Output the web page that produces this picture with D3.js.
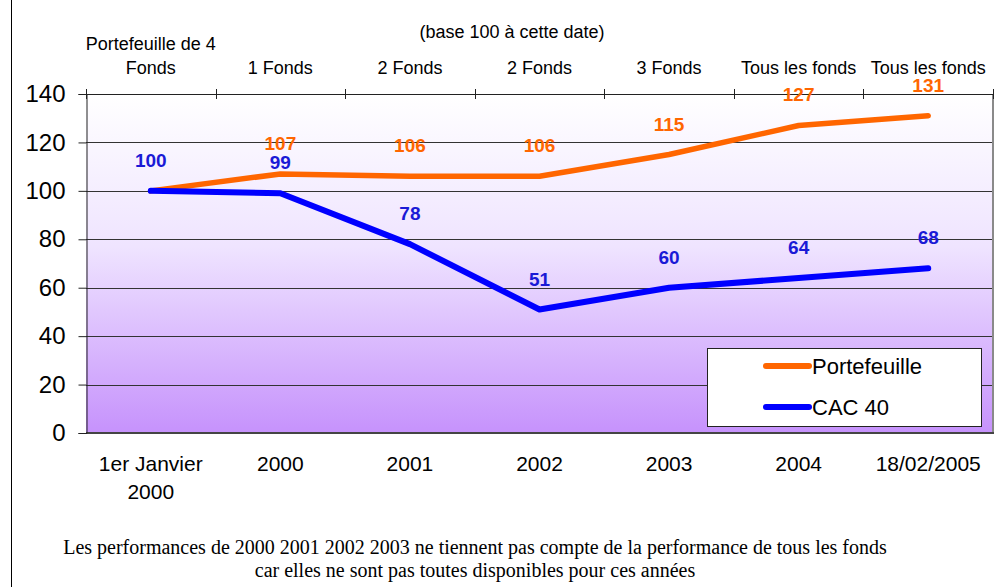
<!DOCTYPE html>
<html>
<head>
<meta charset="utf-8">
<script src="https://cdn.jsdelivr.net/npm/d3@7.9.0/dist/d3.min.js"></script>
<style>
  body { margin: 0; background: #fff; }
  svg { display: block; font-family: Arial, "Liberation Sans", sans-serif; }
</style>
</head>
<body>
<svg id="chart" width="999" height="587"></svg>
<script>
// categories (bottom) and fund counts (top)
const dates = [["1er Janvier", "2000"], ["2000"], ["2001"], ["2002"], ["2003"], ["2004"], ["18/02/2005"]];
const fundCounts = [["Portefeuille de 4", "Fonds"], ["1 Fonds"], ["2 Fonds"], ["2 Fonds"], ["3 Fonds"], ["Tous les fonds"], ["Tous les fonds"]];
const portefeuille = [100, 107, 106, 106, 115, 127, 131];
const cac40 = [100, 99, 78, 51, 60, 64, 68];
const yTicks = [0, 20, 40, 60, 80, 100, 120, 140];
const footnote = [
  "Les performances de 2000 2001 2002 2003 ne tiennent pas compte de la performance de tous les fonds",
  "car elles ne sont pas toutes disponibles pour ces années"
];

const svg = d3.select("#chart");
const pLeft = 86, pRight = 993, pTop = 94, pBottom = 433;

const x = d3.scaleBand().domain(d3.range(dates.length)).range([pLeft, pRight]);
const y = d3.scaleLinear().domain([0, 140]).range([pBottom, pTop]);
const cx = i => x(i) + x.bandwidth() / 2;

// page border on the left
svg.append("line").attr("x1", 11.5).attr("x2", 11.5).attr("y1", 0).attr("y2", 587)
  .attr("stroke", "#000").attr("stroke-width", 1);

// plot background gradient
const grad = svg.append("defs").append("linearGradient")
  .attr("id", "bg").attr("x1", 0).attr("x2", 0).attr("y1", 0).attr("y2", 1);
grad.append("stop").attr("offset", "0%").attr("stop-color", "#ffffff");
grad.append("stop").attr("offset", "45%").attr("stop-color", "#efe4ff");
grad.append("stop").attr("offset", "100%").attr("stop-color", "#c692fc");

svg.append("rect").attr("x", pLeft).attr("y", pTop)
  .attr("width", pRight - pLeft).attr("height", pBottom - pTop)
  .attr("fill", "url(#bg)");

// gridlines
svg.append("g").selectAll("line").data(yTicks.filter(d => d > 0 && d < 140)).join("line")
  .attr("x1", pLeft).attr("x2", pRight)
  .attr("y1", d => Math.round(y(d)) + 0.5).attr("y2", d => Math.round(y(d)) + 0.5)
  .attr("stroke", "#333").attr("stroke-width", 1);

// right + bottom borders (grey)
svg.append("line").attr("x1", pRight).attr("x2", pRight).attr("y1", pTop).attr("y2", pBottom + 1)
  .attr("stroke", "#8a8a8a").attr("stroke-width", 2);
svg.append("line").attr("x1", pLeft).attr("x2", pRight + 1).attr("y1", pBottom).attr("y2", pBottom)
  .attr("stroke", "#444").attr("stroke-width", 2);

// y axis
const yAxis = svg.append("g").attr("transform", `translate(${pLeft + 0.5},0)`)
  .call(d3.axisLeft(y).tickValues(yTicks).tickSize(8).tickPadding(13).tickFormat(d3.format("d")));
yAxis.select(".domain").attr("stroke", "#222");
yAxis.selectAll(".tick line").attr("stroke", "#222");
yAxis.selectAll("text").attr("font-size", 24).attr("fill", "#000")
  .attr("font-family", "Arial, 'Liberation Sans', sans-serif");

// top axis with ticks crossing
const topG = svg.append("g");
topG.append("line").attr("x1", pLeft).attr("x2", pRight).attr("y1", pTop + 0.5).attr("y2", pTop + 0.5)
  .attr("stroke", "#222");
topG.selectAll("line.tk").data(d3.range(dates.length + 1)).join("line").attr("class", "tk")
  .attr("x1", i => Math.round(pLeft + i * x.step()) + 0.5).attr("x2", i => Math.round(pLeft + i * x.step()) + 0.5)
  .attr("y1", pTop - 5).attr("y2", pTop + 5).attr("stroke", "#222");

// top labels
topG.selectAll("text.fc").data(fundCounts).join("text").attr("class", "fc")
  .attr("text-anchor", "middle").attr("font-size", 18).attr("fill", "#000")
  .each(function(d, i) {
    const t = d3.select(this);
    d.forEach((s, k) => {
      t.append("tspan").attr("x", cx(i)).attr("y", 74 - (d.length - 1 - k) * 24).text(s);
    });
  });

svg.append("text").attr("x", 512).attr("y", 38).attr("text-anchor", "middle")
  .attr("font-size", 18).text("(base 100 à cette date)");

// bottom labels
svg.append("g").selectAll("text").data(dates).join("text")
  .attr("text-anchor", "middle").attr("font-size", 21).attr("fill", "#000")
  .each(function(d, i) {
    const t = d3.select(this);
    d.forEach((s, k) => t.append("tspan").attr("x", cx(i)).attr("y", 471 + k * 28).text(s));
  });

// lines
const line = d3.line().x((d, i) => cx(i)).y(d => y(d));
svg.append("path").datum(portefeuille).attr("d", line).attr("fill", "none")
  .attr("stroke", "#ff6600").attr("stroke-width", 5.5).attr("stroke-linecap", "round").attr("stroke-linejoin", "round");
svg.append("path").datum(cac40).attr("d", line).attr("fill", "none")
  .attr("stroke", "#0000ff").attr("stroke-width", 6).attr("stroke-linecap", "round").attr("stroke-linejoin", "round");

// data labels (first portfolio label hidden behind the CAC one)
svg.append("g").selectAll("text").data(portefeuille.map((v, i) => [v, i]).filter(d => d[1] > 0)).join("text")
  .attr("x", d => cx(d[1])).attr("y", d => y(d[0]) - 24)
  .attr("text-anchor", "middle").attr("font-size", 19).attr("font-weight", "bold")
  .attr("fill", "#ff6600").text(d => d[0]);
svg.append("g").selectAll("text").data(cac40).join("text")
  .attr("x", (d, i) => cx(i)).attr("y", d => y(d) - 24)
  .attr("text-anchor", "middle").attr("font-size", 19).attr("font-weight", "bold")
  .attr("fill", "#1a1ad6").text(d => d);

// legend
const lg = svg.append("g");
lg.append("rect").attr("x", 707.5).attr("y", 348.5).attr("width", 274).attr("height", 78)
  .attr("fill", "#fff").attr("stroke", "#222").attr("stroke-width", 1);
const legendItems = [["Portefeuille", "#ff6600"], ["CAC 40", "#0000ff"]];
legendItems.forEach(([name, col], k) => {
  const ly = 366 + k * 41;
  lg.append("line").attr("x1", 766).attr("x2", 809).attr("y1", ly).attr("y2", ly)
    .attr("stroke", col).attr("stroke-width", 6).attr("stroke-linecap", "round");
  lg.append("text").attr("x", 812).attr("y", ly + 8).attr("font-size", 22).text(name);
});

// footnote
svg.append("g").selectAll("text").data(footnote).join("text")
  .attr("x", 475).attr("y", (d, i) => 554 + i * 23).attr("text-anchor", "middle")
  .attr("font-family", "'Liberation Serif', 'Times New Roman', serif").attr("font-size", 20)
  .text(d => d);
</script>
</body>
</html>
